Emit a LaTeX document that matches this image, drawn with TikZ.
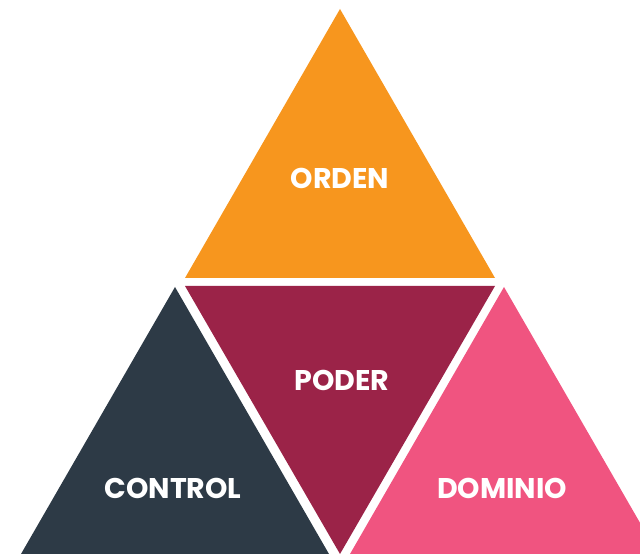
\documentclass[tikz,border=0pt]{standalone}
\usepackage{fontspec}
\setmainfont{Poppins}
\definecolor{cOrange}{RGB}{247,150,30}
\definecolor{cMaroon}{RGB}{155,35,72}
\definecolor{cSlate}{RGB}{45,58,70}
\definecolor{cPink}{RGB}{240,84,128}
\tikzset{
  lbl/.style={text=white, font=\fontsize{28.5}{31}\selectfont\bfseries, inner sep=0pt, anchor=center}
}
\begin{document}
\begin{tikzpicture}[x=1pt,y=1pt]
\useasboundingbox (0,0) rectangle (640,554);
\clip (0,0) rectangle (640,554);
\fill[cOrange] (340,545) -- (185,276) -- (495,276) -- cycle;
\fill[cMaroon] (185,268) -- (495,268) -- (340,0) -- cycle;
\fill[cSlate] (175,267) -- (21,0) -- (329,0) -- cycle;
\fill[cPink] (504,267) -- (350,0) -- (658,0) -- cycle;
\node[lbl] (orden) at (340,376) {ORDEN};
\node[lbl] (poder) at (342,174) {PODER};
\node[lbl] (control) at (173,66) {CONTROL};
\node[lbl] (dominio) at (502,66) {DOMINIO};
\end{tikzpicture}
\end{document}
